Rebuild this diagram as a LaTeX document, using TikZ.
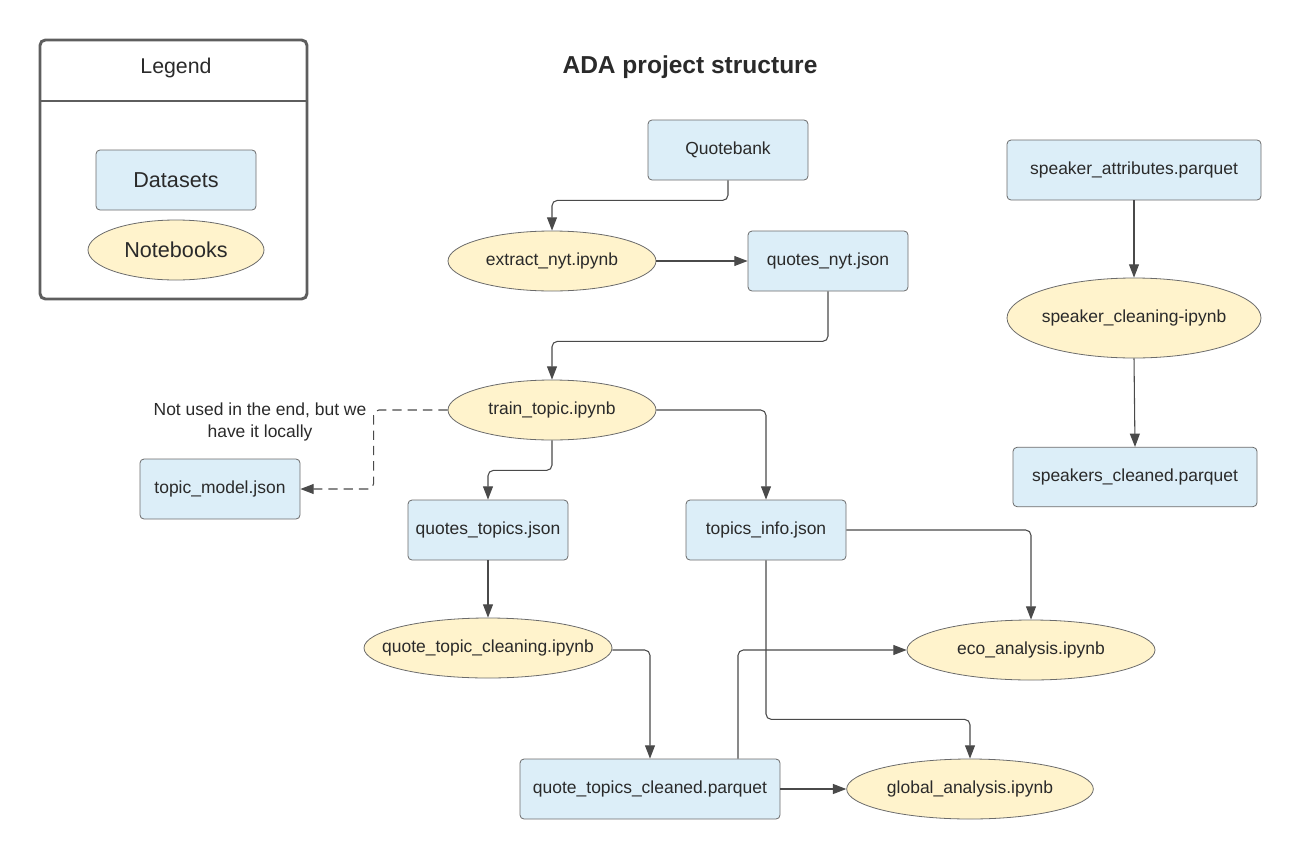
\documentclass[tikz,border=0pt]{standalone}
\usepackage{fontspec}
\setmainfont{Liberation Sans}
\usetikzlibrary{shapes.geometric,arrows.meta}
\definecolor{boxfill}{HTML}{DCEEF8}
\definecolor{ellfill}{HTML}{FFF3CC}
\definecolor{bordergray}{HTML}{6B6B6B}
\definecolor{textgray}{HTML}{2A2A2A}
\definecolor{linegray}{HTML}{4A4A4A}
\definecolor{legendgray}{HTML}{5E5E5E}
\begin{document}
\begin{tikzpicture}[x=0.75pt,y=-0.75pt,
  every node/.style={text=textgray,font=\fontsize{13.1}{15.8}\selectfont},
  dataset/.style={draw=bordergray,fill=boxfill,rounded corners=3pt,line width=0.6pt,
    minimum width=120pt,minimum height=45pt,inner sep=0pt},
  notebook/.style={ellipse,draw=bordergray,fill=ellfill,line width=0.6pt,
    minimum width=156pt,minimum height=45pt,inner ysep=0pt,inner xsep=-20pt},
  conn/.style={draw=linegray,line width=0.8pt,rounded corners=4pt,
    -{Triangle[length=10pt,width=7.5pt]}},
  dconn/.style={conn,dashed,dash pattern=on 7pt off 4.5pt}
]
\useasboundingbox (0,0) rectangle (1302,860);
% legend
\draw[legendgray,line width=2.2pt,rounded corners=4pt] (40,40) rectangle (307,299);
\draw[legendgray,line width=2.2pt] (40,101) -- (307,101);
\node (lg) at (176,68) {\fontsize{16}{19}\selectfont Legend};
\node[dataset,minimum width=120pt] (lds) at (176,180) {\fontsize{16.2}{19}\selectfont Datasets};
\node[notebook,minimum width=132pt] (lnb) at (176,250) {\fontsize{16.2}{19}\selectfont Notebooks};
% title
\node (title) at (690,67) {\fontsize{18.4}{22}\selectfont\bfseries ADA project structure};
% nodes
\node[dataset] (qb) at (728,150) {Quotebank};
\node[notebook] (ex) at (552,261) {extract\_nyt.ipynb};
\node[dataset] (qn) at (828,261) {quotes\_nyt.json};
\node[dataset,minimum width=190.5pt] (sa) at (1134,170) {speaker\_attributes.parquet};
\node[notebook,minimum width=190.5pt,minimum height=60pt] (sc) at (1134,318) {speaker\_cleaning-ipynb};
\node[dataset,minimum width=183pt,minimum height=44.5pt] (scl) at (1135,477) {speakers\_cleaned.parquet};
\node[notebook] (tt) at (552,410) {train\_topic.ipynb};
\node[dataset] (tm) at (220,489) {topic\_model.json};
\node[dataset] (qt) at (488,530) {quotes\_topics.json};
\node[dataset] (ti) at (766,530) {topics\_info.json};
\node[notebook,minimum width=186pt] (qtc) at (488,648) {quote\_topic\_cleaning.ipynb};
\node[notebook,minimum width=186pt] (eco) at (1031,650) {eco\_analysis.ipynb};
\node[dataset,minimum width=195pt] (qtcl) at (650,789) {quote\_topics\_cleaned.parquet};
\node[notebook,minimum width=185pt] (ga) at (970,789) {global\_analysis.ipynb};
\node[align=center] (note) at (260,422) {Not used in the end, but we\\have it locally};
% connectors
\draw[conn] (qb.south) -- ++(0,20) -| (ex.north);
\draw[conn] (ex.east) -- (ex.east -| qn.west);
\draw[conn] (qn.south) -- ++(0,50) -| (tt.north);
\draw[conn] (sa.south) -- (sc.north);
\draw[conn] (sc.south) -- (scl.north);
\draw[dconn] (tt.west) -- ++(-74,0) |- (tm.east);
\draw[conn] (tt.south) -- ++(0,30) -| (qt.north);
\draw[conn] (tt.east) -| (ti.north);
\draw[conn] (qt.south) -- (qtc.north);
\draw[conn] ([yshift=-1.5pt]qtc.east) -| (qtcl.north);
\draw[conn] (ti.east) -| (eco.north);
\draw[conn] (ti.south) -- ++(0,159) -| (ga.north);
\draw[conn] ([xshift=66pt]qtcl.north) |- (eco.west);
\draw[conn] (qtcl.east) -- (ga.west);
\end{tikzpicture}
\end{document}
